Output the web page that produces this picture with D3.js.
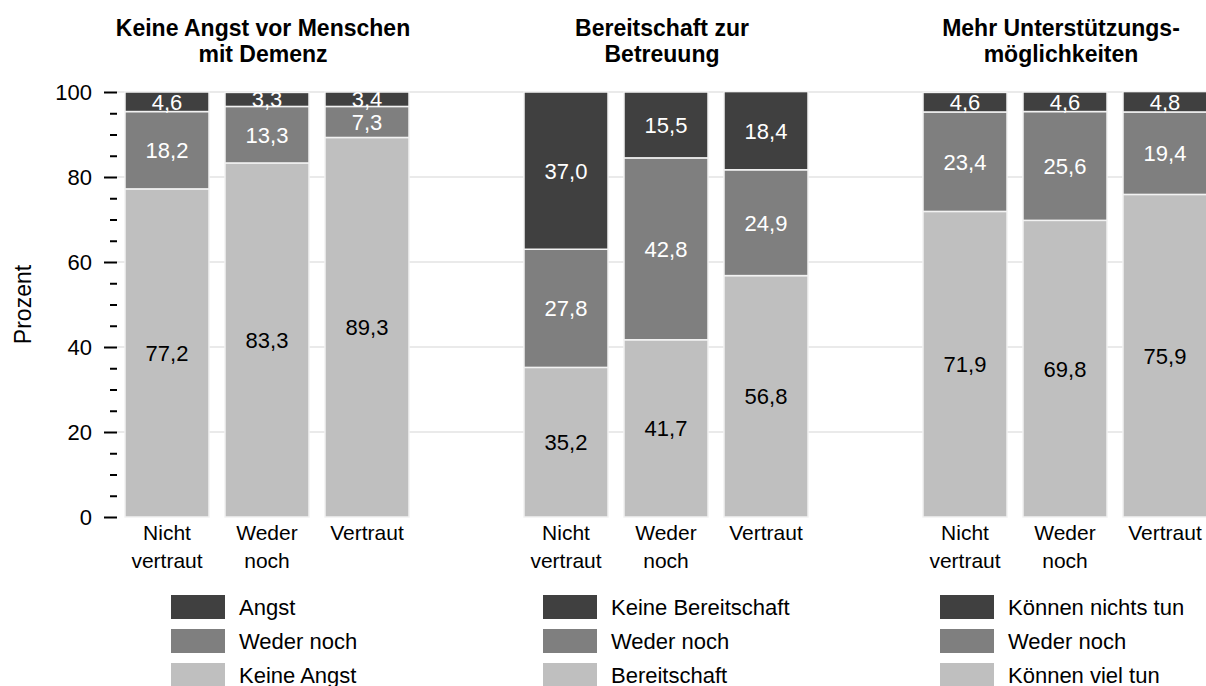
<!DOCTYPE html>
<html>
<head>
<meta charset="utf-8">
<script src="https://cdn.jsdelivr.net/npm/d3@7"></script>
<style>
  body { margin: 0; background: #fff; }
  svg { display: block; font-family: Arial, "Liberation Sans", sans-serif; }
</style>
</head>
<body>
<svg id="chart" width="1206" height="686"></svg>
<script>
/*Data*/
var panelTitles = [
  ["Keine Angst vor Menschen", "mit Demenz"],
  ["Bereitschaft zur", "Betreuung"],
  ["Mehr Unterstützungs-", "möglichkeiten"]
];
var categories = ["Nicht vertraut", "Weder noch", "Vertraut"];
var categoryLines = [["Nicht", "vertraut"], ["Weder", "noch"], ["Vertraut"]];

// values per panel, bottom segment first
var angstLow = [77.2, 83.3, 89.3];
var angstMid = [18.2, 13.3, 7.3];
var angstTop = [4.6, 3.3, 3.4];

var betreuungLow = [35.2, 41.7, 56.8];
var betreuungMid = [27.8, 42.8, 24.9];
var betreuungTop = [37.0, 15.5, 18.4];

var hilfeLow = [71.9, 69.8, 75.9];
var hilfeMid = [23.4, 25.6, 19.4];
var hilfeTop = [4.6, 4.6, 4.8];

var legendLabels = [
  ["Angst", "Weder noch", "Keine Angst"],
  ["Keine Bereitschaft", "Weder noch", "Bereitschaft"],
  ["Können nichts tun", "Weder noch", "Können viel tun"]
];
var yTicks = [0, 20, 40, 60, 80, 100];

var panels = [
  [angstLow, angstMid, angstTop],
  [betreuungLow, betreuungMid, betreuungTop],
  [hilfeLow, hilfeMid, hilfeTop]
];

/*Setup*/
var svg = d3.select("#chart");
var segColors = ["#bfbfbf", "#7f7f7f", "#404040"];
var labelColors = ["#000", "#fff", "#fff"];

var y = d3.scaleLinear().domain([0, 100]).range([517, 92]);

var x0 = d3.scaleBand().domain([0, 1, 2]).range([117, 117 + 399 * 3]);
var x1 = d3.scaleBand().domain(categories).range([8, 292]).paddingInner(0.16);

/*Grid*/
svg.append("g")
  .selectAll("line")
  .data(yTicks.filter(function (d) { return d > 0; }))
  .enter().append("line")
  .attr("x1", 117).attr("x2", 1206)
  .attr("y1", function (d) { return y(d); })
  .attr("y2", function (d) { return y(d); })
  .attr("stroke", "#e3e3e3")
  .attr("stroke-width", 1.5);

/*Axis*/
var yAxis = svg.append("g")
  .attr("transform", "translate(117,0)")
  .call(d3.axisLeft(y).tickValues(yTicks).tickSize(13).tickPadding(12));
yAxis.select(".domain").remove();
yAxis.selectAll("line").attr("stroke", "#000").attr("stroke-width", 2);
yAxis.selectAll("text").attr("font-size", 22).attr("font-family", null).attr("fill", "#000");

var minor = svg.append("g")
  .attr("transform", "translate(117,0)")
  .call(d3.axisLeft(y)
    .tickValues(d3.range(5, 100, 5).filter(function (d) { return d % 20 !== 0; }))
    .tickSize(7).tickFormat(""));
minor.select(".domain").remove();
minor.selectAll("line").attr("stroke", "#000").attr("stroke-width", 2);

svg.append("text")
  .attr("transform", "translate(31," + y(50) + ") rotate(-90)")
  .attr("text-anchor", "middle")
  .attr("font-size", 23)
  .text("Prozent");

/*Panels*/
var fmt = function (v) { return v.toFixed(1).replace(".", ","); };
var legendX = [171, 543, 940];

panels.forEach(function (series, p) {
  var g = svg.append("g").attr("transform", "translate(" + x0(p) + ",0)");
  var cx = x1(categories[0]) + (x1(categories[2]) + x1.bandwidth() - x1(categories[0])) / 2;

  // title
  var title = g.append("text")
    .attr("text-anchor", "middle")
    .attr("font-size", 23)
    .attr("font-weight", "bold");
  panelTitles[p].forEach(function (line, i) {
    title.append("tspan").attr("x", cx - 4).attr("y", 36 + i * 26).text(line);
  });

  // stacked segments
  var rows = categories.map(function (c, i) {
    var o = { cat: c };
    series.forEach(function (s, k) { o["s" + k] = s[i]; });
    return o;
  });
  var stack = d3.stack().keys(["s0", "s1", "s2"])(rows);

  stack.forEach(function (layer, k) {
    var lg = g.append("g");
    lg.selectAll("rect")
      .data(layer)
      .enter().append("rect")
      .attr("x", function (d) { return x1(d.data.cat); })
      .attr("width", x1.bandwidth())
      .attr("y", function (d) { return y(d[1]); })
      .attr("height", function (d) { return y(d[0]) - y(d[1]); })
      .attr("fill", segColors[k])
      .attr("stroke", "#f2f2f2")
      .attr("stroke-width", 1.5);

    lg.selectAll("text")
      .data(layer)
      .enter().append("text")
      .attr("x", function (d) { return x1(d.data.cat) + x1.bandwidth() / 2; })
      .attr("y", function (d) { return y((d[0] + d[1]) / 2); })
      .attr("dy", "0.36em")
      .attr("text-anchor", "middle")
      .attr("font-size", 22)
      .attr("fill", labelColors[k])
      .text(function (d) { return fmt(d[1] - d[0]); });
  });

  // category labels
  categories.forEach(function (c, i) {
    var t = g.append("text")
      .attr("text-anchor", "middle")
      .attr("font-size", 21);
    categoryLines[i].forEach(function (line, j) {
      t.append("tspan")
        .attr("x", x1(c) + x1.bandwidth() / 2)
        .attr("y", 540 + j * 28)
        .text(line);
    });
  });

  // legend (dark first)
  var leg = svg.append("g");
  legendLabels[p].forEach(function (lab, i) {
    leg.append("rect")
      .attr("x", legendX[p]).attr("y", 595 + i * 34)
      .attr("width", 54).attr("height", 24)
      .attr("fill", segColors[2 - i]);
    leg.append("text")
      .attr("x", legendX[p] + 68).attr("y", 615 + i * 34)
      .attr("font-size", 22)
      .text(lab);
  });
});
</script>
</body>
</html>
